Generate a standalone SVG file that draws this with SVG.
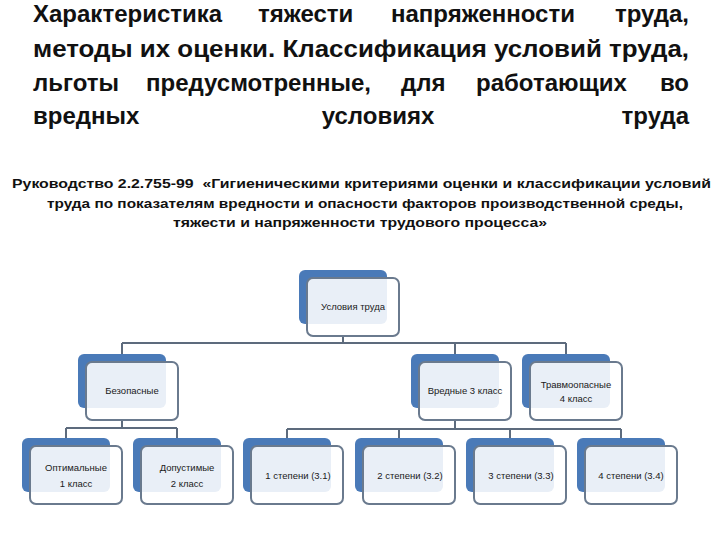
<svg xmlns="http://www.w3.org/2000/svg" width="720" height="540" viewBox="0 0 720 540">
<style>
.bg{fill:#ffffff}
.t{font-family:"Liberation Sans",Arial,sans-serif;font-weight:bold;font-size:24px;fill:#111}
.e{text-anchor:end}
.m{text-anchor:middle}
.s{font-family:"Liberation Sans",Arial,sans-serif;font-weight:bold;font-size:13.5px;fill:#111;white-space:pre}
.back{fill:#4a7ab8}
.front{fill:#ffffff;fill-opacity:0.88;stroke:#6a7a8e;stroke-width:2}
.lbl{font-family:"Liberation Sans",Arial,sans-serif;font-size:9.5px;fill:#1a1a1a;text-anchor:middle}
.conn{fill:none;stroke:#5d6b7d;stroke-width:2}
</style>
<rect class="bg" x="0" y="0" width="720" height="540"/>
<g id="title">
<text class="t" x="33" y="22">Характеристика</text>
<text class="t" x="258" y="22">тяжести</text>
<text class="t" x="391" y="22">напряженности</text>
<text class="t e" x="689" y="22">труда,</text>
<text class="t" x="33" y="56.5" textLength="656" lengthAdjust="spacingAndGlyphs">методы их оценки. Классификация условий труда,</text>
<text class="t" x="33" y="90.5">льготы</text>
<text class="t" x="146" y="90.5">предусмотренные,</text>
<text class="t" x="401" y="90.5">для</text>
<text class="t" x="476" y="90.5">работающих</text>
<text class="t e" x="689" y="90.5">во</text>
<text class="t" x="33" y="124">вредных</text>
<text class="t m" x="378" y="124">условиях</text>
<text class="t e" x="689" y="124">труда</text>
</g>
<g id="subtitle">
<text class="s" x="12" y="188" textLength="699" lengthAdjust="spacingAndGlyphs">Руководство 2.2.755-99  «Гигиеническими критериями оценки и классификации условий</text>
<text class="s" x="47" y="207.5" textLength="636" lengthAdjust="spacingAndGlyphs">труда по показателям вредности и опасности факторов производственной среды,</text>
<text class="s" x="173" y="227" textLength="374" lengthAdjust="spacingAndGlyphs">тяжести и напряженности трудового процесса»</text>
</g>
<g id="connectors">
<path class="conn" d="M343,336 V343 M122,343 H566 M122,343 V354 M455,343 V354 M566,343 V354"/>
<path class="conn" d="M122,420 V428 M66,428 H177 M66,428 V438 M177,428 V438"/>
<path class="conn" d="M455,420 V429 M287,429 H621 M287,429 V438 M399,429 V438 M510,429 V438 M621,429 V438"/>
</g>
<g id="n-usloviya">
<rect class="back" x="299" y="270" width="88" height="54" rx="6"/>
<rect class="front" x="307" y="278" width="92" height="58" rx="6"/>
<text class="lbl" x="353" y="310">Условия труда</text>
</g>
<g id="n-bezopasnye">
<rect class="back" x="78" y="354" width="88" height="54" rx="6"/>
<rect class="front" x="86" y="362" width="92" height="58" rx="6"/>
<text class="lbl" x="132" y="394">Безопасные</text>
</g>
<g id="n-vrednye">
<rect class="back" x="411" y="354" width="88" height="54" rx="6"/>
<rect class="front" x="419" y="362" width="92" height="58" rx="6"/>
<text class="lbl" x="465" y="394">Вредные 3 класс</text>
</g>
<g id="n-travmo">
<rect class="back" x="522" y="354" width="88" height="54" rx="6"/>
<rect class="front" x="530" y="362" width="92" height="58" rx="6"/>
<text class="lbl" x="576" y="388">Травмоопасные</text>
<text class="lbl" x="576" y="402">4 класс</text>
</g>
<g id="n-optim">
<rect class="back" x="22" y="438" width="88" height="54" rx="6"/>
<rect class="front" x="30" y="446" width="92" height="58" rx="6"/>
<text class="lbl" x="76" y="471">Оптимальные</text>
<text class="lbl" x="76" y="487">1 класс</text>
</g>
<g id="n-dopust">
<rect class="back" x="133" y="438" width="88" height="54" rx="6"/>
<rect class="front" x="141" y="446" width="92" height="58" rx="6"/>
<text class="lbl" x="187" y="471">Допустимые</text>
<text class="lbl" x="187" y="487">2 класс</text>
</g>
<g id="n-st1">
<rect class="back" x="243" y="438" width="88" height="54" rx="6"/>
<rect class="front" x="251" y="446" width="92" height="58" rx="6"/>
<text class="lbl" x="298" y="479">1 степени (3.1)</text>
</g>
<g id="n-st2">
<rect class="back" x="355" y="438" width="88" height="54" rx="6"/>
<rect class="front" x="363" y="446" width="92" height="58" rx="6"/>
<text class="lbl" x="410" y="479">2 степени (3.2)</text>
</g>
<g id="n-st3">
<rect class="back" x="466" y="438" width="88" height="54" rx="6"/>
<rect class="front" x="474" y="446" width="92" height="58" rx="6"/>
<text class="lbl" x="521" y="479">3 степени (3.3)</text>
</g>
<g id="n-st4">
<rect class="back" x="577" y="438" width="88" height="54" rx="6"/>
<rect class="front" x="585" y="446" width="92" height="58" rx="6"/>
<text class="lbl" x="631" y="479">4 степени (3.4)</text>
</g>
</svg>
